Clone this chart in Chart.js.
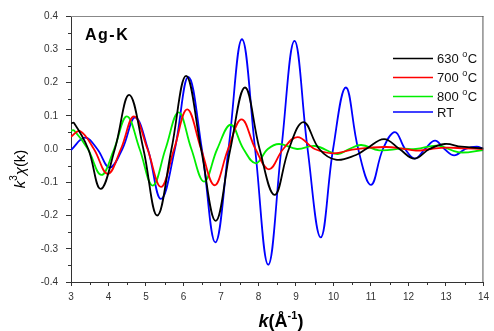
<!DOCTYPE html>
<html>
<head>
<meta charset="utf-8">
<script src="https://cdn.jsdelivr.net/npm/chart.js@4/dist/chart.umd.min.js"></script>
<style>
  html, body { margin: 0; padding: 0; background: #fff; }
  #wrap { width: 494px; height: 331px; }
</style>
</head>
<body>
<div id="wrap"><canvas id="chart" width="494" height="331"></canvas></div>
<script>
// EXAFS k^3 chi(k) of Ag-K edge
const K_630 = [3.0, 3.08, 3.46, 3.79, 4.17, 4.55, 4.93, 5.30, 5.68, 6.07, 6.47, 6.86, 7.25, 7.64, 8.03, 8.43, 8.81, 9.20, 9.62, 10.06, 10.6, 10.87, 11.35, 11.76, 12.16, 12.56, 12.97, 13.41, 14.0];
const CHI_630 = [0.077, 0.078, 0.0, -0.120, 0.0, 0.163, 0.0, -0.200, 0.0, 0.220, 0.0, -0.216, 0.0, 0.185, 0.0, -0.138, 0.0, 0.081, 0.0, -0.032, -0.018, 0.0, 0.030, 0.0, -0.029, 0.0, 0.015, 0.007, 0.002];

const K_700 = [3.0, 3.24, 3.61, 3.98, 4.33, 4.68, 5.04, 5.40, 5.75, 6.10, 6.47, 6.83, 7.19, 7.55, 7.92, 8.28, 8.66, 9.04, 9.50, 10.0, 10.5, 11.0, 11.4, 11.8, 12.2, 12.6, 13.0, 13.5, 14.0];
const CHI_700 = [0.037, 0.054, 0.0, -0.075, 0.0, 0.098, 0.0, -0.114, 0.0, 0.119, 0.0, -0.109, 0.0, 0.089, 0.0, -0.061, 0.0, 0.036, 0.0, -0.013, -0.002, 0.004, 0.006, 0.002, -0.005, 0.0, 0.004, 0.002, 0.0];

const K_800 = [3.0, 3.08, 3.45, 3.81, 4.15, 4.49, 4.83, 5.18, 5.52, 5.87, 6.21, 6.55, 6.90, 7.26, 7.60, 7.93, 8.25, 8.55, 9.03, 9.51, 10.1, 10.42, 10.74, 11.22, 11.83, 12.2, 12.79, 13.35, 14.0];
const CHI_800 = [0.055, 0.056, 0.0, -0.078, 0.0, 0.098, 0.0, -0.110, 0.0, 0.110, 0.0, -0.098, 0.0, 0.073, 0.0, -0.043, 0.0, 0.015, 0.0, 0.009, -0.015, 0.0, 0.012, -0.004, 0.001, 0.0, 0.010, -0.010, -0.003];

const K_RT = [3.0, 3.37, 3.70, 4.03, 4.37, 4.71, 5.05, 5.40, 5.77, 6.13, 6.49, 6.85, 7.20, 7.56, 7.91, 8.26, 8.61, 8.96, 9.31, 9.66, 9.99, 10.33, 10.66, 11.0, 11.32, 11.64, 11.91, 12.17, 12.44, 12.71, 12.96, 13.22, 13.52, 13.82, 14.0];
const CHI_RT = [-0.003, 0.034, 0.0, -0.056, 0.0, 0.095, 0.0, -0.150, 0.0, 0.217, 0.0, -0.281, 0.0, 0.330, 0.0, -0.348, 0.0, 0.325, 0.0, -0.266, 0.0, 0.185, 0.0, -0.108, 0.0, 0.051, 0.0, -0.029, 0.0, 0.025, 0.0, -0.019, 0.0, 0.007, 0.0];

const SERIES = [
  { label: '630 °C', k: K_630, chi: CHI_630, color: '#000000' },
  { label: '700 °C', k: K_700, chi: CHI_700, color: '#ff0000' },
  { label: '800 °C', k: K_800, chi: CHI_800, color: '#00ee00' },
  { label: 'RT', k: K_RT, chi: CHI_RT, color: '#0000ff' },
];

const X_MIN = 3;
const X_MAX = 14;
const Y_MIN = -0.4;
const Y_MAX = 0.4;
const AXIS_COLOR = '#333';
const FONT = 'Arial, "Liberation Sans", sans-serif';

function toPoints(ks, vals) {
  return ks.map((k, i) => ({ x: k, y: vals[i] }));
}

// minor ticks, frame, legend and axis titles (need superscripts)
const decorations = {
  id: 'decorations',
  afterDraw(chart) {
    const { ctx, chartArea: a, scales } = chart;
    const xs = scales.x;
    const ys = scales.y;
    ctx.save();

    // frame: top and right
    ctx.lineWidth = 1;
    ctx.strokeStyle = '#888';
    ctx.beginPath();
    ctx.moveTo(a.left, a.top + 0.5);
    ctx.lineTo(a.right, a.top + 0.5);
    ctx.stroke();
    ctx.strokeStyle = '#555';
    ctx.beginPath();
    ctx.moveTo(a.right - 0.5, a.top);
    ctx.lineTo(a.right - 0.5, a.bottom);
    ctx.stroke();

    // minor ticks
    ctx.strokeStyle = AXIS_COLOR;
    ctx.beginPath();
    for (let k = X_MIN + 0.5; k < X_MAX; k += 1) {
      const px = Math.round(xs.getPixelForValue(k)) + 0.5;
      ctx.moveTo(px, a.bottom);
      ctx.lineTo(px, a.bottom + 3);
    }
    for (let v = Y_MIN + 0.05; v < Y_MAX; v += 0.1) {
      const py = Math.round(ys.getPixelForValue(v)) + 0.5;
      ctx.moveTo(a.left, py);
      ctx.lineTo(a.left - 3, py);
    }
    ctx.stroke();

    // Ag-K tag
    ctx.fillStyle = '#000';
    ctx.font = `bold 16px ${FONT}`;
    ctx.letterSpacing = '1.5px';
    ctx.textBaseline = 'alphabetic';
    ctx.textAlign = 'left';
    ctx.fillText('Ag-K', 85, 40);
    ctx.letterSpacing = '0px';

    // legend
    const rows = [58.5, 77.5, 96.5, 112];
    chart.data.datasets.forEach((ds, i) => {
      const y = rows[i];
      ctx.strokeStyle = ds.borderColor;
      ctx.lineWidth = 1.7;
      ctx.beginPath();
      ctx.moveTo(393, y);
      ctx.lineTo(433, y);
      ctx.stroke();
      ctx.fillStyle = '#111';
      ctx.textBaseline = 'middle';
      const parts = ds.label.split('°');
      let x = 437;
      ctx.font = `13px ${FONT}`;
      ctx.fillText(parts[0], x, y + 1);
      x += ctx.measureText(parts[0]).width;
      if (parts.length > 1) {
        ctx.font = `9px ${FONT}`;
        ctx.fillText('o', x, y - 4);
        x += ctx.measureText('o').width + 0.5;
        ctx.font = `13px ${FONT}`;
        ctx.fillText(parts[1], x, y + 1);
      }
    });

    // x title: k(Å^-1)
    ctx.fillStyle = '#000';
    ctx.textBaseline = 'alphabetic';
    const xPieces = [
      { t: 'k', f: `italic bold 18px ${FONT}`, dy: 0 },
      { t: '(Å', f: `bold 18px ${FONT}`, dy: 0 },
      { t: '-1', f: `bold 11px ${FONT}`, dy: -8 },
      { t: ')', f: `bold 18px ${FONT}`, dy: 0 },
    ];
    let total = 0;
    xPieces.forEach((p) => { ctx.font = p.f; total += ctx.measureText(p.t).width; });
    let cx = 281 - total / 2;
    xPieces.forEach((p) => {
      ctx.font = p.f;
      ctx.fillText(p.t, cx, 327 + p.dy);
      cx += ctx.measureText(p.t).width;
    });

    // y title: k^3 chi(k), rotated
    ctx.save();
    ctx.translate(25, 169);
    ctx.rotate(-Math.PI / 2);
    const yPieces = [
      { t: 'k', f: `italic 15px ${FONT}`, dy: 0 },
      { t: '3', f: `10px ${FONT}`, dy: -8 },
      { t: 'χ', f: `italic 15px ${FONT}`, dy: 0 },
      { t: '(k)', f: `15px ${FONT}`, dy: 0 },
    ];
    total = 0;
    yPieces.forEach((p) => { ctx.font = p.f; total += ctx.measureText(p.t).width; });
    cx = -total / 2;
    yPieces.forEach((p) => {
      ctx.font = p.f;
      ctx.fillText(p.t, cx, p.dy);
      cx += ctx.measureText(p.t).width;
    });
    ctx.restore();

    ctx.restore();
  },
};

const canvas = document.getElementById('chart');

// eslint-disable-next-line no-undef, no-new
new Chart(canvas, {
  type: 'line',
  data: {
    datasets: SERIES.map((s) => ({
      label: s.label,
      data: toPoints(s.k, s.chi),
      borderColor: s.color,
      backgroundColor: s.color,
      borderWidth: 1.8,
      pointRadius: 0,
      fill: false,
      tension: 0.4,
    })),
  },
  options: {
    responsive: false,
    animation: false,
    devicePixelRatio: 1,
    layout: { padding: { top: 16, right: 5, left: 0, bottom: 0 } },
    plugins: {
      legend: { display: false },
      tooltip: { enabled: false },
    },
    scales: {
      x: {
        type: 'linear',
        min: X_MIN,
        max: X_MAX,
        ticks: {
          stepSize: 1,
          color: AXIS_COLOR,
          font: { family: FONT, size: 10 },
          padding: 5,
          maxRotation: 0,
        },
        grid: { drawOnChartArea: false, tickLength: 4, color: AXIS_COLOR },
        border: { color: AXIS_COLOR, width: 1 },
        afterFit(scale) { scale.height = 49; },
      },
      y: {
        min: Y_MIN,
        max: Y_MAX,
        ticks: {
          stepSize: 0.1,
          color: AXIS_COLOR,
          font: { family: FONT, size: 10 },
          padding: 8,
          callback: (v) => (Math.round(v * 10) / 10).toFixed(1),
        },
        grid: { drawOnChartArea: false, tickLength: 5, color: AXIS_COLOR },
        border: { color: AXIS_COLOR, width: 1 },
        afterFit(scale) { scale.width = 71; },
      },
    },
  },
  plugins: [decorations],
});
</script>
</body>
</html>
